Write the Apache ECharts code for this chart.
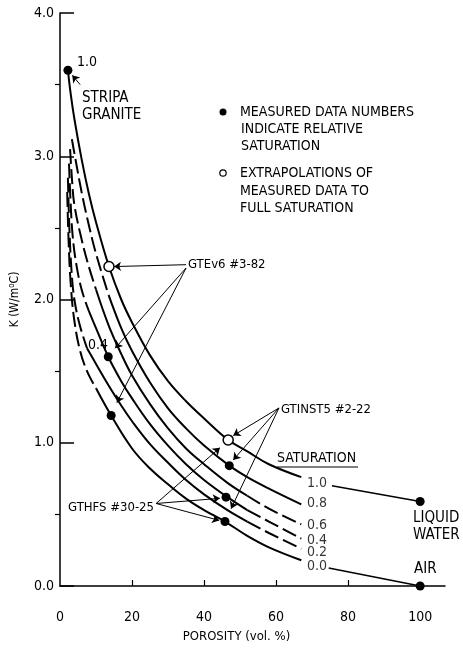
<!DOCTYPE html>
<html>
<head>
<meta charset="utf-8">
<script src="https://cdn.jsdelivr.net/npm/echarts@6/dist/echarts.min.js"></script>
<style>
  html, body { margin: 0; padding: 0; background: #fff; }
  #chart { width: 463px; height: 648px; }
</style>
</head>
<body>
<div id="chart"></div>
<script>
const FONT = "'DejaVu Sans Condensed', 'Liberation Sans Narrow', sans-serif";

// Thermal conductivity K (W/m°C) against porosity (vol. %), one curve per relative saturation
const curveSat10 = [[2.2,3.6],[3,3.43],[4,3.26],[6,2.98],[8,2.74],[10,2.54],[13.6,2.23],[17,2.0],[20,1.84],[25,1.61],[30,1.43],[35,1.29],[40,1.17],[46.7,1.02],[52,0.94],[58,0.85],[67,0.76]];
const curveSat08 = [[3.3,3.12],[4,3.02],[6,2.75],[8,2.52],[10,2.32],[13.5,2.03],[17,1.8],[20,1.64],[25,1.42],[30,1.24],[35,1.1],[40,0.98],[47,0.84],[52,0.76],[58,0.68],[67,0.57]];
const curveSat06 = [[2.8,3.05],[3.3,2.85],[4,2.66],[6,2.42],[8,2.23],[10,2.07],[13.5,1.82],[17,1.62],[20,1.47],[25,1.27],[30,1.1],[35,0.96],[40,0.85],[46.5,0.72],[52,0.63],[58,0.54],[67,0.43]];
const curveSat04 = [[2.5,2.95],[2.9,2.7],[3.5,2.45],[4.5,2.25],[6,2.07],[8,1.92],[10,1.8],[13.4,1.6],[17,1.43],[20,1.31],[25,1.13],[30,0.98],[35,0.85],[40,0.74],[46.5,0.62],[52,0.53],[58,0.45],[67,0.33]];
const curveSat02 = [[2.2,2.85],[2.6,2.5],[3.2,2.2],[4,2.0],[5.5,1.82],[7.5,1.66],[10,1.55],[13.5,1.4],[17,1.26],[20,1.15],[25,0.99],[30,0.86],[35,0.74],[40,0.64],[46.5,0.53],[52,0.45],[58,0.37],[67,0.26]];
const curveSat00 = [[2,2.75],[2.4,2.4],[3,2.1],[4,1.85],[5.6,1.64],[7.5,1.5],[10,1.38],[14.2,1.19],[20,0.96],[25,0.82],[30,0.71],[35,0.61],[40,0.53],[45.8,0.45],[52,0.35],[58,0.27],[67,0.18]];

const saturationNames = ['1.0', '0.8', '0.6', '0.4', '0.2', '0.0'];
const saturationCurves = [curveSat10, curveSat08, curveSat06, curveSat04, curveSat02, curveSat00];
// porosity where the dashed upper part of a curve turns solid, and where the dashed tail starts
const dashedHeadUntil = [null, 13.5, 10, 8, 7.5, 10];
const dashedTailFrom = [null, null, 52, 52, 52, null];
// where each saturation value is written, at the right-hand end of its curve
const saturationLabelAt = [[68.6,0.72],[68.6,0.576],[68.6,0.424],[68.6,0.32],[68.6,0.236],[68.6,0.139]];

// measured samples (Stripa granite, GTEv6 #3-82, GTINST5 #2-22, GTHFS #30-25)
const measuredPoints = [[2.2,3.6],[13.4,1.6],[14.2,1.19],[47,0.84],[46.1,0.62],[45.8,0.45]];
// extrapolations to full saturation
const extrapolatedPoints = [[13.6,2.23],[46.7,1.02]];
// pure liquid water and air at 100 % porosity
const waterPoint = [100, 0.59];
const airPoint = [100, 0.0];
const waterLink = [[75.5,0.70],[100,0.59]];
const airLink = [[74.6,0.125],[100,0.0]];

// annotation leaders: [from, to]
const leaders = [
  [[5.6,3.5],[3.4,3.565]],
  [[35,2.243],[15.0,2.23]],
  [[35,2.22],[15.3,1.66]],
  [[35,2.22],[15.8,1.28]],
  [[60.8,1.243],[48.1,1.05]],
  [[60.8,1.243],[48.1,0.88]],
  [[60.8,1.243],[47.5,0.54]],
  [[26.7,0.576],[44.4,0.965]],
  [[26.7,0.576],[44.4,0.612]],
  [[26.7,0.576],[44.2,0.458]]
];

const xTickLabels = [0, 20, 40, 60, 80, 100];
const xTickMarks = [20, 40, 60, 80];
const yMinorTicks = [0.5, 1.5, 2.5, 3.5];

const chart = echarts.init(document.getElementById('chart'), null, { renderer: 'canvas' });

function curvePiece(pts, dashed) {
  return {
    type: 'line',
    data: pts,
    smooth: 0.4,
    showSymbol: false,
    symbol: 'none',
    lineStyle: { color: '#000', width: 2, type: dashed ? [15, 5] : 'solid' },
    z: 3
  };
}

// each curve is cut into a dashed head, a solid body and (for some) a dashed tail
const curveSeries = [];
saturationCurves.forEach((pts, i) => {
  const head = dashedHeadUntil[i];
  const tail = dashedTailFrom[i];
  const lo = head == null ? -Infinity : head;
  const hi = tail == null ? Infinity : tail;
  if (head != null) curveSeries.push(curvePiece(pts.filter(p => p[0] <= head), true));
  curveSeries.push(curvePiece(pts.filter(p => p[0] >= lo && p[0] <= hi), false));
  if (tail != null) curveSeries.push(curvePiece(pts.filter(p => p[0] >= tail), true));
});

function txt(text, x, y, size, extra) {
  return {
    type: 'text', x: x, y: y,
    style: Object.assign({ text: text, font: size + 'px ' + FONT, fill: '#000', verticalAlign: 'middle', align: 'left' }, extra || {})
  };
}

const option = {
  animation: false,
  backgroundColor: '#fff',
  grid: { left: 60, right: 18, top: 13, bottom: 59, containLabel: false },
  xAxis: {
    type: 'value', min: 0, max: 106.9,
    axisLine: { show: true, lineStyle: { color: '#000', width: 1.5 } },
    axisTick: { show: true, inside: true, length: 6, customValues: xTickMarks, lineStyle: { color: '#000', width: 1.2 } },
    axisLabel: { show: true, customValues: xTickLabels, margin: 24, color: '#000', fontFamily: FONT, fontSize: 14 },
    splitLine: { show: false },
    name: 'POROSITY (vol. %)', nameLocation: 'middle', nameGap: 44,
    nameTextStyle: { color: '#000', fontFamily: FONT, fontSize: 13, padding: [0, 32, 0, 0] }
  },
  yAxis: [{
    type: 'value', min: 0, max: 4, interval: 1, position: 'left',
    axisLine: { show: true, lineStyle: { color: '#000', width: 1.5 } },
    axisTick: { show: true, inside: true, length: 14, lineStyle: { color: '#000', width: 1.5 } },
    axisLabel: { show: true, margin: 6, color: '#000', fontFamily: FONT, fontSize: 14, formatter: v => v.toFixed(1) },
    splitLine: { show: false },
    name: 'K (W/m{s|o}C)', nameLocation: 'middle', nameGap: 38, nameRotate: 90,
    nameTextStyle: { color: '#000', fontFamily: FONT, fontSize: 12,
      rich: { s: { fontFamily: FONT, fontSize: 8, verticalAlign: 'top', padding: [0, 0, 6, 0], color: '#000' } } }
  }, {
    type: 'value', min: 0, max: 4, position: 'left',
    axisLine: { show: false },
    axisTick: { show: true, inside: false, length: 5, customValues: yMinorTicks, lineStyle: { color: '#000', width: 1.2 } },
    axisLabel: { show: false },
    splitLine: { show: false }
  }],
  series: [
    ...curveSeries,
    {
      type: 'line', data: waterLink, showSymbol: false, symbol: 'none',
      lineStyle: { color: '#000', width: 1.5 }, smooth: false
    },
    {
      type: 'line', data: airLink, showSymbol: false, symbol: 'none',
      lineStyle: { color: '#000', width: 1.5 }, smooth: false
    },
    {
      type: 'lines', coordinateSystem: 'cartesian2d',
      data: leaders.map(l => ({ coords: l })),
      symbol: ['none', 'arrow'], symbolSize: 7,
      lineStyle: { color: '#000', width: 1, opacity: 1 },
      z: 4
    },
    {
      type: 'scatter', name: 'measured', data: measuredPoints.concat([waterPoint, airPoint]),
      symbol: 'circle', symbolSize: 9,
      itemStyle: { color: '#000', opacity: 1 }, z: 5
    },
    {
      type: 'scatter', name: 'extrapolated', data: extrapolatedPoints,
      symbol: 'circle', symbolSize: 10,
      itemStyle: { color: '#fff', borderColor: '#000', borderWidth: 1.5, opacity: 1 }, z: 6
    },
    {
      type: 'scatter', name: 'saturation labels',
      data: saturationLabelAt.map((p, i) => ({ value: p, name: saturationNames[i] })),
      symbolSize: 0,
      label: { show: true, position: 'right', distance: 0, formatter: '{b}', color: '#000', fontFamily: FONT, fontSize: 14 },
      z: 7
    }
  ],
  graphic: [
    txt('1.0', 77, 62, 14, { fontStyle: 'italic' }),
    txt('STRIPA', 82, 98, 15),
    txt('GRANITE', 82, 115, 15),
    { type: 'circle', shape: { cx: 223, cy: 112, r: 3.5 }, style: { fill: '#000' } },
    txt('MEASURED DATA NUMBERS', 240, 112, 14),
    txt('INDICATE RELATIVE', 241, 129, 14),
    txt('SATURATION', 241, 146, 14),
    { type: 'circle', shape: { cx: 223, cy: 173, r: 3.2 }, style: { fill: '#fff', stroke: '#000', lineWidth: 1.2 } },
    txt('EXTRAPOLATIONS OF', 240, 173, 14),
    txt('MEASURED DATA TO', 240, 191, 14),
    txt('FULL SATURATION', 240, 208, 14),
    txt('GTEv6 #3-82', 188, 265, 13),
    txt('0.4', 88, 345, 14, { fontStyle: 'italic' }),
    txt('GTINST5 #2-22', 281, 410, 13),
    txt('GTHFS #30-25', 154, 508, 13, { align: 'right' }),
    txt('SATURATION', 277, 458, 14),
    { type: 'line', shape: { x1: 277, y1: 467, x2: 358, y2: 467 }, style: { stroke: '#000', lineWidth: 1.2 } },
    txt('LIQUID', 413, 518, 15),
    txt('WATER', 413, 535, 15),
    txt('AIR', 414, 569, 15)
  ]
};

chart.setOption(option);
</script>
</body>
</html>
